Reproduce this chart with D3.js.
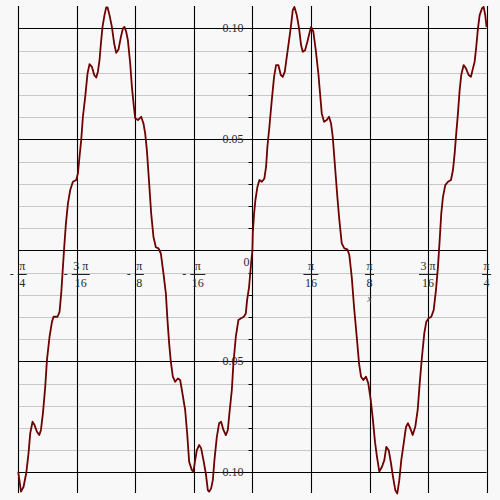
<!DOCTYPE html>
<html><head><meta charset="utf-8">
<script src="https://cdn.jsdelivr.net/npm/d3@7/dist/d3.min.js"></script>
<style>html,body{margin:0;padding:0;background:#f8f8f8}</style>
</head><body>
<svg id="chart" width="500" height="500"></svg>
<script>
// ---- data (x in radians, y values) ----
const xValues = [
-0.7854,-0.7761,-0.7674,-0.7584,-0.7507,-0.7450,-0.7373,-0.7306,-0.7225,-0.7148,
-0.7091,-0.7024,-0.6947,-0.6890,-0.6803,-0.6722,-0.6669,-0.6535,-0.6468,-0.6411,
-0.6354,-0.6310,-0.6253,-0.6186,-0.6109,-0.6019,-0.5908,-0.5851,-0.5798,-0.5741,
-0.5684,-0.5607,-0.5529,-0.5462,-0.5382,-0.5305,-0.5238,-0.5181,-0.5127,-0.5080,
-0.5027,-0.4960,-0.4903,-0.4859,-0.4792,-0.4712,-0.4635,-0.4568,-0.4491,-0.4410,
-0.4343,-0.4290,-0.4233,
-0.4176,-0.4098,-0.4041,-0.3974,-0.3931,-0.3840,-0.3730,-0.3653,-0.3596,-0.3539,
-0.3462,-0.3395,-0.3318,-0.3237,-0.3150,-0.3070,-0.2983,-0.2902,-0.2848,-0.2792,
-0.2735,-0.2668,-0.2590,-0.2500,-0.2423,-0.2346,-0.2255,-0.2188,-0.2121,-0.2031,
-0.1977,-0.1920,-0.1863,-0.1786,-0.1719,-0.1642,-0.1562,-0.1495,-0.1451,-0.1384,
-0.1327,-0.1273,-0.1193,-0.1116,-0.1049,-0.0972,-0.0891,-0.0824,-0.0771,-0.0690,
-0.0637,-0.0556,-0.0469,-0.0379,-0.0288,-0.0221,-0.0178,-0.0111,-0.0044,0,
0.0013,0.0057,0.0101,0.0168,0.0235,0.0315,0.0402,0.0459,0.0503,0.0570,
0.0650,0.0727,0.0794,0.0871,0.0952,0.1019,0.1086,0.1153,0.1230,0.1297,
0.1354,0.1408,0.1488,0.1565,0.1632,0.1689,0.1766,0.1843,0.1910,0.1967,
0.2044,0.2125,0.2212,0.2269,0.2326,0.2403,0.2493,0.2570,0.2637,0.2694,
0.2771,0.2849,0.2916,0.2996,0.3083,0.3184,0.3251,0.3331,0.3408,0.3499,
0.3576,0.3643,0.3720,0.3810,0.3887,0.3968,0.4035,0.4112,0.4179,0.4256,
0.4346,0.4424,0.4491,0.4571,0.4648,0.4715,0.4792,0.4859,0.4926,0.4993,
0.5074,0.5151,0.5218,0.5295,0.5375,0.5462,0.5543,0.5610,0.5687,0.5764,
0.5831,0.5912,0.5999,0.6079,0.6156,0.6223,0.6280,0.6334,0.6391,0.6468,
0.6558,0.6659,0.6726,0.6783,0.6836,0.6893,0.6950,0.7004,0.7084,0.7162,
0.7252,0.7329,0.7396,0.7453,0.7507,0.7564,0.7621,0.7698,0.7755,0.7808,0.7854
];
const yValues = [
-0.0997,-0.1087,-0.1065,-0.1003,-0.0913,-0.0823,-0.0772,-0.0787,-0.0817,-0.0832,
-0.0809,-0.0733,-0.0614,-0.0494,-0.0389,-0.0322,-0.0299,-0.0299,-0.0277,-0.0194,
-0.0074,0.0016,0.0122,0.0212,0.0272,0.0309,0.0317,0.0347,0.0422,0.0497,
0.0602,0.0692,0.0797,0.0839,0.0827,0.0790,0.0779,0.0805,0.0857,0.0932,
0.1007,0.1060,0.1095,0.1095,0.1060,0.1007,0.0932,0.0890,0.0905,0.0962,
0.1000,0.1007,0.0985,
0.0947,0.0842,0.0737,0.0647,0.0595,0.0587,0.0602,0.0572,0.0527,0.0452,
0.0302,0.0167,0.0061,0.0014,0.0009,-0.0014,-0.0104,-0.0194,-0.0314,-0.0419,
-0.0502,-0.0569,-0.0592,-0.0577,-0.0584,-0.0644,-0.0719,-0.0824,-0.0952,-0.0990,
-0.0997,-0.0945,-0.0900,-0.0877,-0.0892,-0.0945,-0.1005,-0.1080,-0.1087,-0.1072,
-0.1035,-0.0945,-0.0840,-0.0779,-0.0772,-0.0809,-0.0832,-0.0809,-0.0734,-0.0629,
-0.0509,-0.0389,-0.0314,-0.0306,-0.0299,-0.0284,-0.0224,-0.0164,-0.0059,0,
0.0077,0.0167,0.0227,0.0286,0.0317,0.0309,0.0324,0.0377,0.0467,0.0557,
0.0677,0.0782,0.0835,0.0835,0.0790,0.0782,0.0805,0.0872,0.0947,0.1015,
0.1082,0.1097,0.1060,0.1000,0.0925,0.0895,0.0902,0.0940,0.0977,0.1007,
0.0985,0.0902,0.0797,0.0707,0.0617,0.0579,0.0587,0.0602,0.0572,0.0512,
0.0377,0.0241,0.0136,0.0032,0.0009,0.0005,-0.0021,-0.0119,-0.0254,-0.0389,
-0.0509,-0.0569,-0.0584,-0.0569,-0.0599,-0.0674,-0.0755,-0.0864,-0.0931,-0.0997,
-0.0975,-0.0945,-0.0885,-0.0900,-0.0959,-0.1020,-0.1080,-0.1095,-0.1035,-0.0945,
-0.0869,-0.0795,-0.0779,-0.0802,-0.0832,-0.0795,-0.0719,-0.0599,-0.0479,-0.0374,
-0.0322,-0.0306,-0.0299,-0.0269,-0.0179,-0.0074,0.0046,0.0167,0.0241,0.0294,
0.0309,0.0317,0.0362,0.0437,0.0527,0.0617,0.0722,0.0790,0.0835,0.0820,
0.0790,0.0782,0.0820,0.0850,0.0917,0.1000,0.1060,0.1090,0.1097,0.1060,0.1006
];
// x ticks in multiples of pi/16
const xTickMultiples   = [-4, -3, -2, -1, 1, 2, 3, 4];
const xTickNumerators  = ["π", "3 π", "π", "π", "π", "π", "3 π", "π"];
const xTickDenominators= ["4", "16", "8", "16", "16", "8", "16", "4"];
const yMajorValues = [-0.10, -0.05, 0, 0.05, 0.10];
const yTickValues  = [-0.10, -0.05, 0.05, 0.10];
const yTickLabels  = ["-0.10", "-0.05", "0.05", "0.10"];
const yMinorValues = [-0.09,-0.08,-0.07,-0.06,-0.04,-0.03,-0.02,-0.01,0.01,0.02,0.03,0.04,0.06,0.07,0.08,0.09];
const xAxisName = "x";

// ---- scales ----
const svg = d3.select("#chart");
const x = d3.scaleLinear().domain([-Math.PI/4, Math.PI/4]).range([18.2, 486.6]);
const y = d3.scaleLinear().domain([-0.1093, 0.1101]).range([493, 6]);
const [x0, x1] = x.range();
const [yb, yt] = y.range();
const font = "'Liberation Serif','Times New Roman',serif";

svg.append("rect").attr("width", 500).attr("height", 500).attr("fill", "#f8f8f8");

// minor gray horizontal lines
svg.append("g").selectAll("line").data(yMinorValues).join("line")
  .attr("x1", x0).attr("x2", x1)
  .attr("y1", d => Math.round(y(d)) + 0.5).attr("y2", d => Math.round(y(d)) + 0.5)
  .attr("stroke", "#c8c8c8").attr("stroke-width", 1);

// major black horizontal lines
svg.append("g").selectAll("line").data(yMajorValues).join("line")
  .attr("x1", x0).attr("x2", x1)
  .attr("y1", d => Math.round(y(d)) + 0.5).attr("y2", d => Math.round(y(d)) + 0.5)
  .attr("stroke", "#000").attr("stroke-width", 1.1);

// vertical black lines at multiples of pi/16
const vMult = [-4, -3, -2, -1, 0, 1, 2, 3, 4];
svg.append("g").selectAll("line").data(vMult).join("line")
  .attr("x1", d => Math.round(x(d * Math.PI/16)) + 0.5).attr("x2", d => Math.round(x(d * Math.PI/16)) + 0.5)
  .attr("y1", yt).attr("y2", yb)
  .attr("stroke", "#000").attr("stroke-width", 1.1);

// small y-axis ticks on minor values
const ax = Math.round(x(0)) + 0.5;
svg.append("g").selectAll("line").data(yMinorValues).join("line")
  .attr("x1", ax - 4).attr("x2", ax)
  .attr("y1", d => Math.round(y(d)) + 0.5).attr("y2", d => Math.round(y(d)) + 0.5)
  .attr("stroke", "#000").attr("stroke-width", 1);

// y tick labels
svg.append("g").selectAll("text").data(yTickValues).join("text")
  .attr("x", x(0) - 9).attr("y", d => y(d) + 4)
  .attr("text-anchor", "end")
  .attr("font-family", font).attr("font-size", 12).attr("fill", "#2a2a2a")
  .text((d, i) => yTickLabels[i]);

// "0" origin label
svg.append("text").attr("x", x(0) - 3).attr("y", y(0) + 16)
  .attr("text-anchor", "end").attr("font-family", font).attr("font-size", 12)
  .attr("fill", "#2a2a2a").text("0");

// x tick labels (fractions)
const gx = svg.append("g");
xTickMultiples.forEach((k, i) => {
  const cx = x(k * Math.PI/16) + (k < 0 ? 4 : 0);
  const g = gx.append("g");
  const num = g.append("text").attr("x", cx).attr("y", y(0) + 19.5)
    .attr("text-anchor", "middle").attr("font-family", font).attr("font-size", 12)
    .attr("fill", "#2a2a2a").text(xTickNumerators[i]);
  const den = g.append("text").attr("x", cx).attr("y", y(0) + 37)
    .attr("text-anchor", "middle").attr("font-family", font).attr("font-size", 12)
    .attr("fill", "#2a2a2a").text(xTickDenominators[i]);
  const w = Math.max(num.node().getComputedTextLength(), den.node().getComputedTextLength()) + 3;
  g.append("line").attr("x1", cx - w/2).attr("x2", cx + w/2)
    .attr("y1", Math.round(y(0) + 24) + 0.5).attr("y2", Math.round(y(0) + 24) + 0.5)
    .attr("stroke", "#222").attr("stroke-width", 1);
  if (k < 0) {
    g.append("text").attr("x", cx - w/2 - 4).attr("y", y(0) + 27.5)
      .attr("text-anchor", "end").attr("font-family", font).attr("font-size", 12)
      .attr("fill", "#2a2a2a").text("-");
  }
});

// axis name
svg.append("text").attr("x", x(Math.PI/8)).attr("y", y(0) + 52)
  .attr("text-anchor", "middle").attr("font-family", font).attr("font-style", "italic")
  .attr("font-size", 10).attr("fill", "#667").text(xAxisName);

// curve
const pts = d3.zip(xValues, yValues);
svg.append("path").datum(pts)
  .attr("d", d3.line().x(d => x(d[0])).y(d => y(d[1])))
  .attr("fill", "none").attr("stroke", "#6e0000").attr("stroke-width", 1.8)
  .attr("stroke-linejoin", "round");
</script>
</body></html>
